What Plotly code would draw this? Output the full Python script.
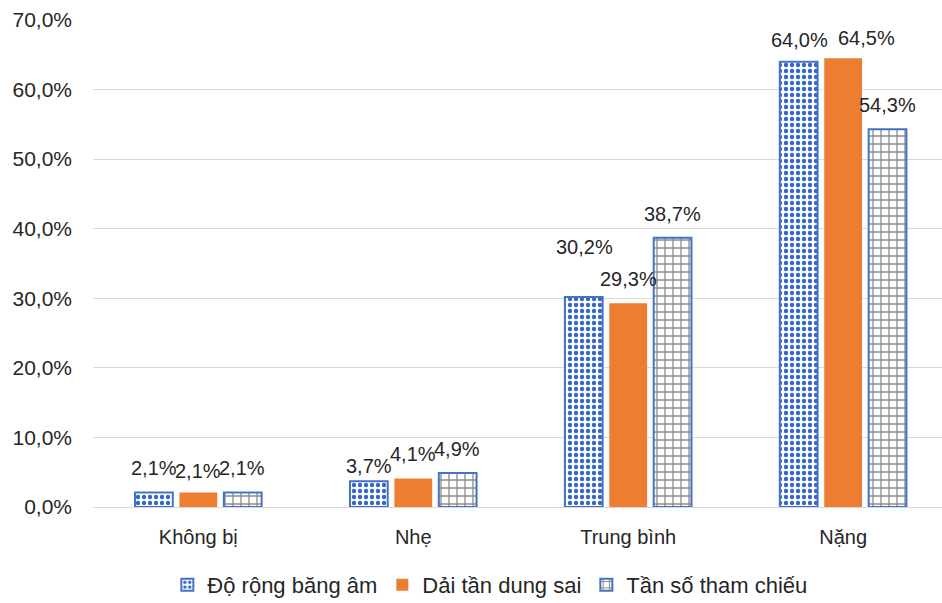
import plotly.graph_objects as go

categories = ["Không bị", "Nhẹ", "Trung bình", "Nặng"]
series_names = ["Độ rộng băng âm", "Dải tần dung sai", "Tần số tham chiếu"]
bang_am = [2.1, 3.7, 30.2, 64.0]
dung_sai = [2.1, 4.1, 29.3, 64.5]
tham_chieu = [2.1, 4.9, 38.7, 54.3]
y_ticks = [0, 10, 20, 30, 40, 50, 60, 70]

BLUE = "#4472C4"
DOT_BLUE = "#3566C8"
ORANGE = "#ED7D31"
GRAY = "#8C8C8C"
FONT = "Liberation Sans, Arial, sans-serif"
TEXT = "#262626"


def fmt(v):
    return f"{v:.1f}".replace(".", ",") + "%"


fig = go.Figure()
fig.add_trace(go.Bar(
    x=categories, y=bang_am, name=series_names[0],
    marker=dict(color="white", line=dict(color=BLUE, width=2),
                pattern=dict(shape=".", fgcolor=DOT_BLUE, bgcolor="white",
                             fgopacity=1, size=6, solidity=0.42,
                             fillmode="overlay")),
))
fig.add_trace(go.Bar(
    x=categories, y=dung_sai, name=series_names[1],
    marker=dict(color=ORANGE, line=dict(width=0)),
))
fig.add_trace(go.Bar(
    x=categories, y=tham_chieu, name=series_names[2],
    marker=dict(color="white", line=dict(color=BLUE, width=2),
                pattern=dict(shape="+", fgcolor=GRAY, bgcolor="white",
                             fgopacity=1, size=8, solidity=0.3,
                             fillmode="overlay")),
))

# value labels above each bar; a few are nudged apart so they do not collide
slot_px = 44
base_lift = 24
nudges = {
    (1, "Không bị"): (0, -3),
    (0, "Nhẹ"): (0, -9),
    (0, "Trung bình"): (0, 26),
    (0, "Nặng"): (0, -2),
    (1, "Nặng"): (23, -4),
}
annotations = []
for k, vals in enumerate([bang_am, dung_sai, tham_chieu]):
    for cat, v in zip(categories, vals):
        dx, dy = nudges.get((k, cat), (0, 0))
        annotations.append(dict(
            x=cat, y=v, xref="x", yref="y", text=fmt(v), showarrow=False,
            xshift=(k - 1) * slot_px + dx, yshift=base_lift + dy,
            yanchor="middle",
            font=dict(family=FONT, size=20, color=TEXT),
        ))

fig.update_layout(
    width=942, height=603,
    margin=dict(l=93, r=0, t=20, b=96),
    paper_bgcolor="white", plot_bgcolor="white",
    barmode="group", bargap=0.38, bargroupgap=0.15,
    font=dict(family=FONT, size=20, color=TEXT),
    annotations=annotations,
    showlegend=True,
    legend=dict(orientation="h", xref="container", yref="container",
                x=0.52, xanchor="center", y=0.03, yanchor="middle",
                font=dict(family=FONT, size=22, color=TEXT),
                itemwidth=30, traceorder="normal"),
    xaxis=dict(range=[-0.49, 3.46], showgrid=False, showline=True,
               linecolor="#D9D9D9", linewidth=1, ticks="",
               ticklabelstandoff=12,
               tickfont=dict(family=FONT, size=20, color=TEXT)),
    yaxis=dict(range=[0, 70], tickvals=y_ticks,
               ticktext=[fmt(t) for t in y_ticks],
               showgrid=True, gridcolor="#D9D9D9", gridwidth=1,
               zeroline=False, showline=False, ticks="",
               ticklabelstandoff=20,
               tickfont=dict(family=FONT, size=21, color=TEXT)),
)

fig.write_html("out.html")
